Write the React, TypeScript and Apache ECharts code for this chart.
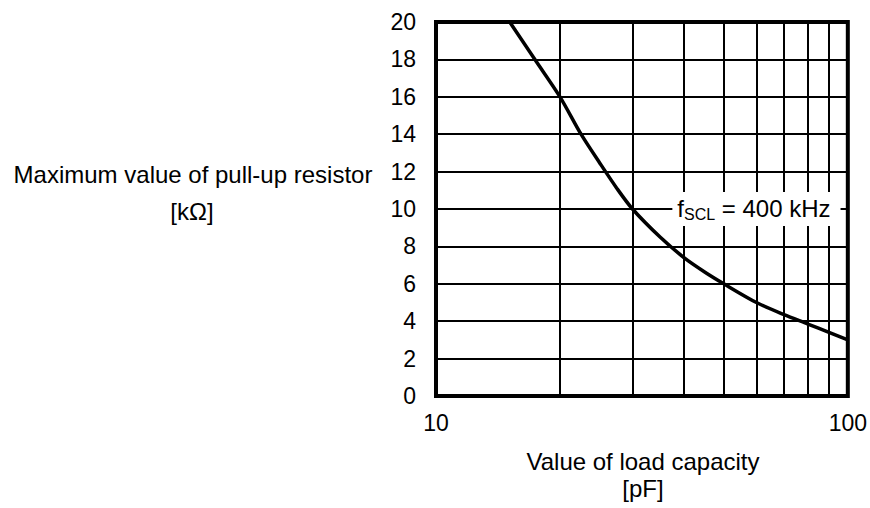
import React, { useEffect, useRef } from "react";
import * as echarts from "echarts";

// Load capacity [pF]
const capacitance = [15.1, 17.5, 20, 22.5, 25, 27.5, 30, 35, 40, 45, 50, 60, 70, 80, 90, 100];
// Maximum value of pull-up resistor [kΩ]
const resistance = [20, 17.9, 16, 14, 12.45, 11.1, 10, 8.5, 7.4, 6.62, 6.0, 5.0, 4.35, 3.85, 3.4, 3.0];
// Vertical log grid lines
const xGridValues = [20, 30, 40, 50, 60, 70, 80, 90];
// Annotation anchor (data coords)
const annotationAt = [60, 10];
const annotationParts = ["f", "SCL", " = 400 kHz"];

const FONT = "'Liberation Sans', Arial, sans-serif";

export default function App() {
  const ref = useRef<HTMLDivElement>(null);
  useEffect(() => {
    if (!ref.current) return;
    const chart = echarts.init(ref.current, null, { renderer: "svg" });
    const title = (text: string, x: number, y: number) => ({
      type: "text",
      x,
      y,
      style: {
        text,
        fontSize: 24,
        fontFamily: FONT,
        fill: "#000",
        align: "center",
        verticalAlign: "middle",
      },
    });
    chart.setOption({
      animation: false,
      backgroundColor: "#ffffff",
      textStyle: { fontFamily: FONT, color: "#000" },
      grid: {
        left: 436,
        top: 22,
        right: 20,
        bottom: 112,
        show: true,
        borderColor: "#000",
        borderWidth: 4,
        backgroundColor: "transparent",
      },
      xAxis: {
        type: "log",
        logBase: 10,
        min: 10,
        max: 100,
        axisLine: { show: false },
        axisTick: { show: false },
        splitLine: { show: false },
        axisLabel: { fontSize: 23, color: "#000", fontFamily: FONT, margin: 15 },
      },
      yAxis: {
        type: "value",
        min: 0,
        max: 20,
        interval: 2,
        axisLine: { show: false },
        axisTick: { show: false },
        splitLine: { show: true, lineStyle: { color: "#000", width: 2 } },
        axisLabel: { fontSize: 23, color: "#000", fontFamily: FONT, margin: 20 },
      },
      series: [
        {
          type: "line",
          data: capacitance.map((c, i) => [c, resistance[i]]),
          smooth: 0.3,
          showSymbol: false,
          symbol: "none",
          lineStyle: { color: "#000", width: 3.5 },
          z: 5,
          markLine: {
            silent: true,
            symbol: "none",
            label: { show: false },
            lineStyle: { color: "#000", width: 2, type: "solid" },
            data: xGridValues.map((v) => ({ xAxis: v })),
            z: 1,
          },
          markPoint: {
            silent: true,
            symbol: "rect",
            symbolSize: 0,
            data: [
              {
                coord: annotationAt,
                label: {
                  show: true,
                  position: "inside",
                  backgroundColor: "#fff",
                  padding: [4, 10, 4, 5],
                  formatter: `{a|${annotationParts[0]}}{b|${annotationParts[1]}}{a|${annotationParts[2]}}`,
                  rich: {
                    a: { fontSize: 24, fontFamily: FONT, color: "#000", lineHeight: 26, verticalAlign: "top" },
                    b: { fontSize: 16, fontFamily: FONT, color: "#000", lineHeight: 20, verticalAlign: "bottom" },
                  },
                },
              },
            ],
            z: 10,
          },
        },
      ],
      graphic: [
        title("Maximum value of pull-up resistor", 193, 174),
        title("[kΩ]", 192, 211),
        title("Value of load capacity", 643, 461),
        title("[pF]", 643, 488),
      ],
    });
    return () => chart.dispose();
  }, []);
  return (
    <div
      ref={ref}
      style={{ position: "fixed", left: 0, top: 0, width: 870, height: 508, background: "#fff" }}
    />
  );
}
